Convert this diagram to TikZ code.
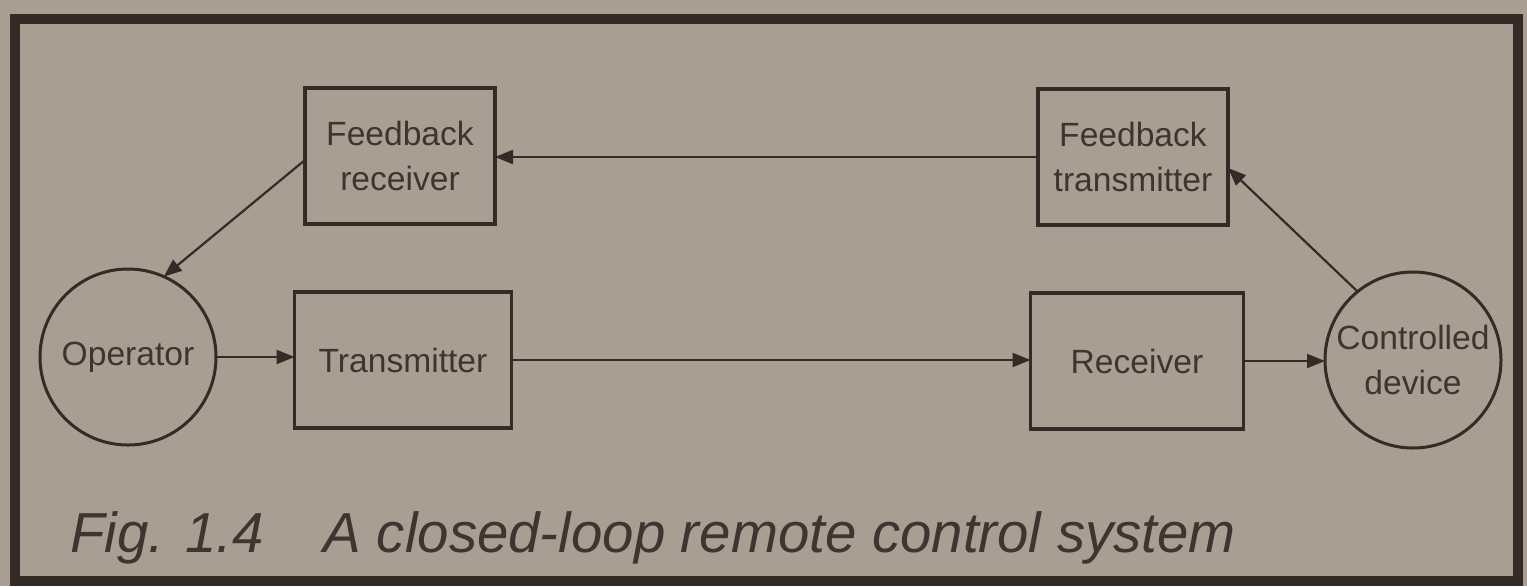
\documentclass[tikz,border=0pt]{standalone}
\usepackage{fontspec}
\setmainfont{Liberation Sans}
\usetikzlibrary{arrows.meta,calc}
\definecolor{paper}{RGB}{170,158,147}
\definecolor{ink}{RGB}{52,43,38}
\definecolor{txt}{RGB}{62,53,48}
\begin{document}
\begin{tikzpicture}[x=0.5pt,y=-0.5pt,
  blk/.style={draw=ink,line width=1.6pt,inner sep=0pt,outer sep=0pt,
    minimum height=68pt,align=center,text=txt,
    font=\fontsize{16.8}{22.5}\selectfont},
  circ/.style={draw=ink,line width=1.5pt,circle,inner sep=0pt,outer sep=0pt,
    minimum size=88pt,align=center,text=txt,
    font=\fontsize{16.8}{22.5}\selectfont},
  conn/.style={draw=ink,line width=1.1pt,-{Triangle[length=9pt,width=7pt]}}]
\useasboundingbox (0,0) rectangle (1527,586);
\fill[paper] (0,0) rectangle (1527,586);
\draw[ink,line width=4.8pt] (15,19) rectangle (1518,581);

\node[blk,minimum width=95pt] (fr) at (400,156) {Feedback\\receiver};
\node[blk,minimum width=95pt] (ft) at (1133,157) {Feedback\\transmitter};
\node[circ] (op) at (128,357) {Operator};
\node[blk,minimum width=108.5pt] (tx) at (403,360) {Transmitter};
\node[blk,minimum width=106.5pt] (rx) at (1137,361) {Receiver};
\node[circ] (cd) at (1413,360) {Controlled\\device};

\draw[conn] (op.east) -- (op.east -| tx.west);
\draw[conn] (tx.east) -- (tx.east -| rx.west);
\draw[conn] (rx.east) -- (rx.east -| cd.west);
\draw[conn] (cd.129) -- ($(ft.east)+(0,11)$);
\draw[conn] (ft.west) -- (ft.west -| fr.east);
\draw[conn] ($(fr.west)+(0,4)$) -- (op.66);

\node[anchor=base west,inner sep=0pt,text=txt,
  font=\fontsize{28.2}{34}\selectfont\itshape] (cap) at (70,552)
  {Fig. 1.4\hspace{30pt}A closed-loop remote control system};
\end{tikzpicture}
\end{document}
